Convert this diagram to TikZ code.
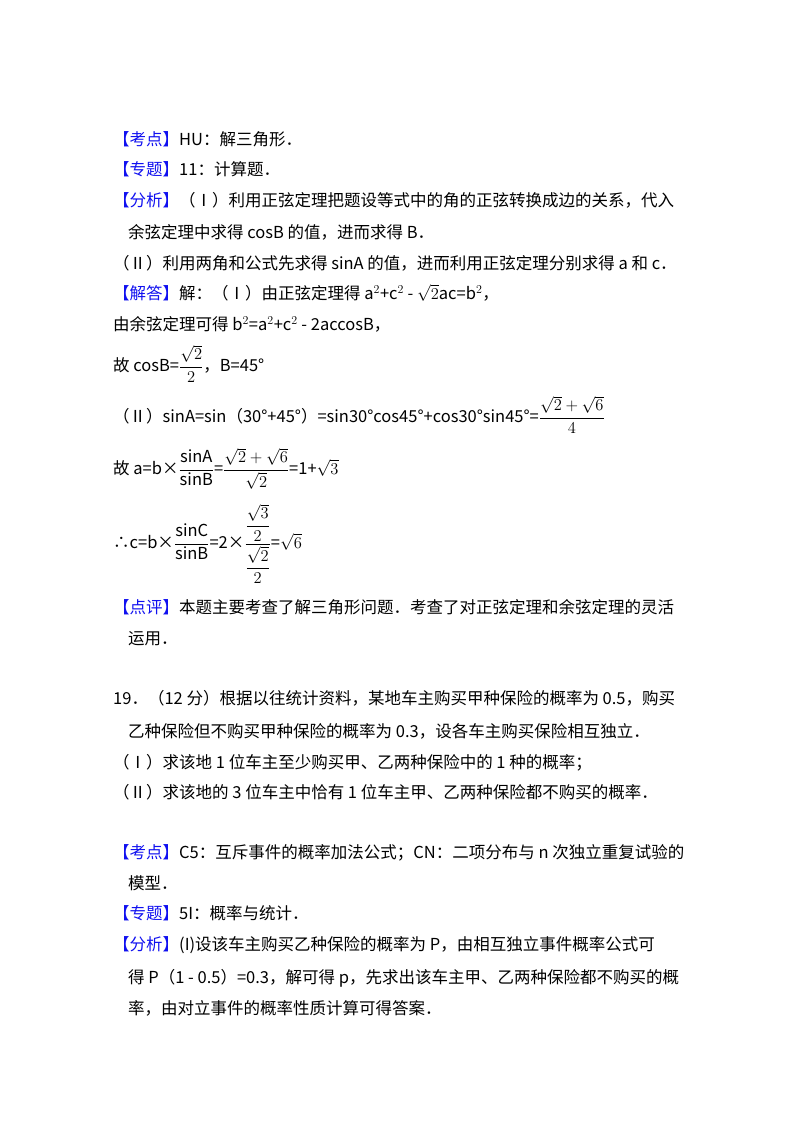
\RequirePackage{fix-cm}
\documentclass[tikz,border=0pt]{standalone}
\usepackage{amsmath}
\usepackage{fontspec}
\setmainfont{Noto Sans CJK SC}
\DeclareMathSizes{16.5}{16.5}{12}{9}
\definecolor{kb}{HTML}{1010F0}
\newcommand{\kh}[1]{\textcolor{kb}{【#1】}}
\begin{document}
\begin{tikzpicture}[x=1pt,y=-1pt,tl/.style={anchor=base west,inner sep=0pt,font=\fontsize{16.5}{19}\selectfont}]
\useasboundingbox (0,0) rectangle (800,1132);
\fill[white] (0,0) rectangle (800,1132);
\node[tl] (l1) at (113,145) {\kh{考点}HU：解三角形．};
\node[tl] (l2) at (113,175) {\kh{专题}11：计算题．};
\node[tl] (l3) at (113,206) {\kh{分析}（Ⅰ）利用正弦定理把题设等式中的角的正弦转换成边的关系，代入};
\node[tl] (l4) at (128,238) {余弦定理中求得 cosB 的值，进而求得 B．};
\node[tl] (l5) at (113,269) {（Ⅱ）利用两角和公式先求得 sinA 的值，进而利用正弦定理分别求得 a 和 c．};
\node[tl] (l6) at (113,299) {\kh{解答}解：（Ⅰ）由正弦定理得 a$^2$+c$^2$ - $\sqrt{2}$ac=b$^2$，};
\node[tl] (l7) at (113,330) {由余弦定理可得 b$^2$=a$^2$+c$^2$ - 2accosB，};
\node[tl] (l8) at (113,371) {故 cosB=$\dfrac{\sqrt{2}}{2}$，B=45°};
\node[tl] (l9) at (113,422) {（Ⅱ）sinA=sin（30°+45°）=sin30°cos45°+cos30°sin45°=$\dfrac{\sqrt{2}+\sqrt{6}}{4}$};
\node[tl] (l10) at (113,474) {故 a=b×$\dfrac{\mathrm{sinA}}{\mathrm{sinB}}$=$\dfrac{\sqrt{2}+\sqrt{6}}{\sqrt{2}}$=1+$\sqrt{3}$};
\node[tl] (l11) at (113,548) {∴c=b×$\dfrac{\mathrm{sinC}}{\mathrm{sinB}}$=2×$\dfrac{\dfrac{\sqrt{3}}{2}}{\dfrac{\sqrt{2}}{2}}$=$\sqrt{6}$};
\node[tl] (l12) at (113,613) {\kh{点评}本题主要考查了解三角形问题．考查了对正弦定理和余弦定理的灵活};
\node[tl] (l13) at (128,644) {运用．};
\node[tl] (l14) at (113,704) {19．（12 分）根据以往统计资料，某地车主购买甲种保险的概率为 0.5，购买};
\node[tl] (l15) at (128,737) {乙种保险但不购买甲种保险的概率为 0.3，设各车主购买保险相互独立．};
\node[tl] (l16) at (113,768) {（Ⅰ）求该地 1 位车主至少购买甲、乙两种保险中的 1 种的概率；};
\node[tl] (l17) at (113,798) {（Ⅱ）求该地的 3 位车主中恰有 1 位车主甲、乙两种保险都不购买的概率．};
\node[tl] (l18) at (113,858) {\kh{考点}C5：互斥事件的概率加法公式；CN：二项分布与 n 次独立重复试验的};
\node[tl] (l19) at (128,889) {模型．};
\node[tl] (l20) at (113,919) {\kh{专题}5I：概率与统计．};
\node[tl] (l21) at (113,950) {\kh{分析}(I)设该车主购买乙种保险的概率为 P，由相互独立事件概率公式可};
\node[tl] (l22) at (128,983) {得 P（1 - 0.5）=0.3，解可得 p，先求出该车主甲、乙两种保险都不购买的概};
\node[tl] (l23) at (128,1014) {率，由对立事件的概率性质计算可得答案．};
\end{tikzpicture}
\end{document}
